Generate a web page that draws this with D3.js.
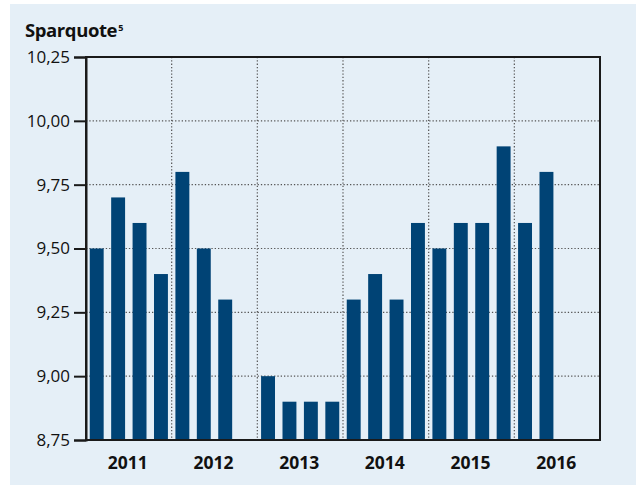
<!DOCTYPE html>
<html>
<head>
<meta charset="utf-8">
<script src="https://cdn.jsdelivr.net/npm/d3@7"></script>
<style>
  body { margin: 0; background: #fff; }
  svg { display: block; font-family: "Open Sans", "Noto Sans", sans-serif; }
</style>
</head>
<body>
<div id="chart"></div>
<script>
// chart data: Sparquote per quarter, 2011 - 2016 (null = no bar)
var years = ["2011", "2012", "2013", "2014", "2015", "2016"]
var quarters = ["Q1", "Q2", "Q3", "Q4"]
var values = [
  9.5, 9.7, 9.6, 9.4,
  9.8, 9.5, 9.3, null,
  9.0, 8.9, 8.9, 8.9,
  9.3, 9.4, 9.3, 9.6,
  9.5, 9.6, 9.6, 9.9,
  9.6, 9.8, null, null
]
var yTicks = [8.75, 9.0, 9.25, 9.5, 9.75, 10.0, 10.25]

var width = 636,
    height = 485
var margin = {top: 57, right: 36, bottom: 45, left: 86}
var innerW = width - margin.left - margin.right,
    innerH = height - margin.top - margin.bottom

var svg = d3.select("#chart")
  .append("svg")
  .attr("width", width)
  .attr("height", height)

// light blue panel
svg.append("rect")
  .attr("x", 10).attr("y", 4)
  .attr("width", width - 10).attr("height", height - 4)
  .attr("fill", "#e5eff7")

var g = svg.append("g")
  .attr("transform", "translate(" + margin.left + "," + margin.top + ")")

// build one row per quarter
var data = []
years.forEach(function(yr, i) {
  quarters.forEach(function(q, j) {
    data.push({key: yr + q, year: yr, value: values[i * 4 + j]})
  })
})

var x = d3.scaleBand()
  .domain(data.map(function(d) { return d.key }))
  .range([0, innerW])
  .paddingInner(0.35)
  .paddingOuter(0.175)

var xYear = d3.scaleBand()
  .domain(years)
  .range([0, innerW])

var y = d3.scaleLinear()
  .domain([8.75, 10.25])
  .range([innerH, 0])

var fmt = function(d) { return d3.format(".2f")(d).replace(".", ",") }

// dotted gridlines
g.append("g")
  .selectAll("line.h")
  .data(yTicks.slice(1, -1))
  .enter().append("line")
  .attr("x1", 0).attr("x2", innerW)
  .attr("y1", function(d) { return y(d) })
  .attr("y2", function(d) { return y(d) })
  .attr("stroke", "#555")
  .attr("stroke-width", 1.2)
  .attr("stroke-dasharray", "1.3,2")

g.append("g")
  .selectAll("line.v")
  .data(years.slice(1))
  .enter().append("line")
  .attr("x1", function(d) { return xYear(d) })
  .attr("x2", function(d) { return xYear(d) })
  .attr("y1", 0).attr("y2", innerH)
  .attr("stroke", "#555")
  .attr("stroke-width", 1.2)
  .attr("stroke-dasharray", "1.3,2")

// bars
g.selectAll("rect.bar")
  .data(data.filter(function(d) { return d.value != null }))
  .enter().append("rect")
  .attr("class", "bar")
  .attr("x", function(d) { return x(d.key) })
  .attr("width", x.bandwidth())
  .attr("y", function(d) { return y(d.value) })
  .attr("height", function(d) { return innerH - y(d.value) })
  .attr("fill", "#004375")

// frame
g.append("rect")
  .attr("x", 0).attr("y", 0)
  .attr("width", innerW).attr("height", innerH)
  .attr("fill", "none")
  .attr("stroke", "#1a1a1a")
  .attr("stroke-width", 2)

// y axis
var yAxis = g.append("g")
  .call(d3.axisLeft(y).tickValues(yTicks).tickFormat(fmt).tickSize(12).tickPadding(4))
yAxis.select(".domain").attr("stroke", "#1a1a1a").attr("stroke-width", 2)
yAxis.selectAll(".tick line").attr("stroke", "#1a1a1a").attr("stroke-width", 2)
yAxis.selectAll(".tick text")
  .attr("fill", "#111")
  .style("font-size", "17px")
  .style("font-family", "Open Sans, sans-serif")

// year labels
g.append("g")
  .selectAll("text.year")
  .data(years)
  .enter().append("text")
  .attr("x", function(d) { return xYear(d) + xYear.bandwidth() / 2 - 1 })
  .attr("y", innerH + 29)
  .attr("text-anchor", "middle")
  .attr("fill", "#111")
  .style("font-size", "17.5px")
  .style("font-weight", "bold")
  .text(function(d) { return d })

// title
var title = svg.append("text")
  .attr("x", 25).attr("y", 37)
  .attr("fill", "#111")
  .style("font-size", "18.5px")
  .style("font-weight", "bold")
  .style("letter-spacing", "-0.4px")
title.append("tspan").text("Sparquote")
title.append("tspan")
  .attr("dy", -6)
  .attr("dx", 1)
  .style("font-size", "9px")
  .text("5")
</script>
</body>
</html>
